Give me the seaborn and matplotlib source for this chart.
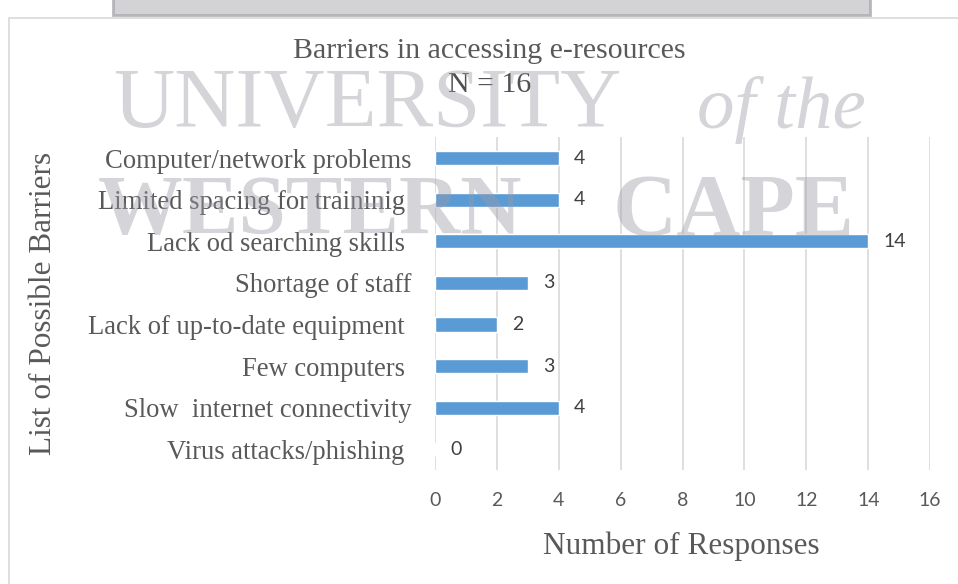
import matplotlib
matplotlib.use("Agg")
import matplotlib.pyplot as plt
import seaborn as sns
import pandas as pd
from matplotlib.patches import Rectangle

categories = [
    "Computer/network problems",
    "Limited spacing for traininig ",
    "Lack od searching skills ",
    "Shortage of staff",
    "Lack of up-to-date equipment ",
    "Few computers ",
    "Slow  internet connectivity",
    "Virus attacks/phishing ",
]
values = [4, 4, 14, 3, 2, 3, 4, 0]
xticks = [0, 2, 4, 6, 8, 10, 12, 14, 16]

df = pd.DataFrame({"barrier": categories, "responses": values})

sns.set_theme(style="white")
plt.rcParams["font.family"] = ["Liberation Serif", "DejaVu Serif"]

fig = plt.figure(figsize=(9.58, 5.84), dpi=100)
ax = fig.add_axes([0.454, 0.195, 0.517, 0.570])

sns.barplot(data=df, y="barrier", x="responses", orient="h", color="#5B9BD5",
            saturation=1, width=0.34, ax=ax, zorder=3)

ax.set_xlim(0, 16)
ax.set_xticks(xticks)
ax.set_xticklabels([str(t) for t in xticks], family="Lato", fontsize=14, color="#595959")
ax.tick_params(axis="x", length=0, pad=16)
ax.tick_params(axis="y", length=0, pad=17, labelsize=19.2, labelcolor="#595959")
for lab in ax.get_yticklabels():
    lab.set_family(["Liberation Serif"])
ax.grid(axis="x", color="#D9D9D9", linewidth=1.2, zorder=0)
ax.grid(axis="y", visible=False)
for s in ax.spines.values():
    s.set_visible(False)

for i, v in enumerate(values):
    ax.annotate(str(v), xy=(v, i), xytext=(11, 0), textcoords="offset points",
                va="center", ha="left", family="Lato", fontsize=14, color="#404040", zorder=5)

ax.set_xlabel("Number of Responses", fontsize=22.5, color="#595959")
ax.xaxis.set_label_coords(0.497, -0.183)
ax.set_ylabel("List of Possible Barriers", fontsize=22.5, color="#595959")
ax.yaxis.set_label_coords(-0.762, 0.5)

fig.text(0.511, 0.912, "Barriers in accessing e-resources", ha="center", va="center",
         fontsize=21.5, color="#595959")
fig.text(0.511, 0.855, "N = 16", ha="center", va="center", fontsize=21.5, color="#505050")

# outer chart border and watermark
fig.patches.append(Rectangle((0.009, -0.1), 1.2, 1.069, transform=fig.transFigure,
                             fill=False, edgecolor="#D9D9D9", linewidth=1.2))
fig.patches.append(Rectangle((0.118, 0.975), 0.79, 0.03, transform=fig.transFigure,
                             facecolor="#C8C8CC", edgecolor="#A8A8AE", linewidth=2, alpha=0.8))
wm = dict(color="#9A9AA6", alpha=0.42, zorder=10, va="center", ha="left")
fig.text(0.118, 0.818, "UNIVERSITY", fontsize=61, **wm)
fig.text(0.728, 0.812, "of the", fontsize=54, style="italic", **wm)
fig.text(0.102, 0.635, "WESTERN", fontsize=61, fontweight="bold", **wm)
fig.text(0.640, 0.635, "CAPE", fontsize=64, fontweight="bold", **wm)

fig.savefig("out.png", dpi=100, facecolor="white")
